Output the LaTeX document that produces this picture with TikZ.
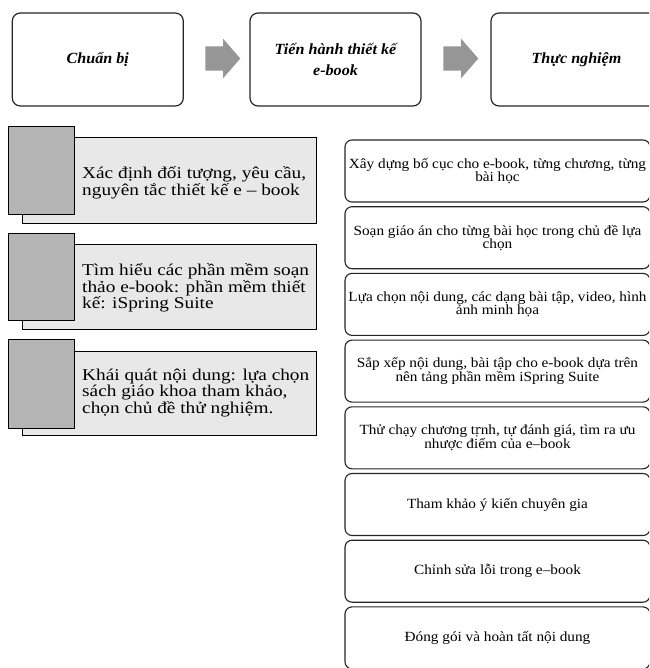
\documentclass[tikz,border=0pt]{standalone}
\usepackage{fontspec}
\setmainfont{Liberation Serif}
\newfontfamily\leftfont[FakeStretch=1.17]{Liberation Serif}
\newfontfamily\rightfont[FakeStretch=1.09]{Liberation Serif}
\newfontfamily\topfont[FakeStretch=1.04]{Liberation Serif}
\newfontfamily\rdotfont[FakeStretch=0.9]{DejaVu Serif}
\usetikzlibrary{shapes.arrows}
\definecolor{arrowgray}{RGB}{150,150,150}
\definecolor{tabgray}{RGB}{180,180,180}
\definecolor{panelgray}{RGB}{232,232,232}
\tikzset{
  topbox/.style={draw=black!85, line width=1.2pt, rounded corners=8pt, fill=white,
    minimum width=171pt, minimum height=93pt, inner sep=0pt, align=center,
    font=\topfont\fontsize{15.5}{21}\selectfont\bfseries\itshape},
  blockarrow/.style={single arrow, fill=arrowgray, draw=none, inner xsep=0pt, inner ysep=12pt,
    minimum height=35pt, single arrow head extend=7.5pt, single arrow tip angle=98},
  panel/.style={draw=black, line width=1pt, fill=panelgray, minimum width=294pt, inner sep=0pt},
  tab/.style={draw=black, line width=1pt, fill=tabgray, minimum width=66pt, minimum height=87pt, inner sep=0pt},
  paneltext/.style={anchor=west, align=left, inner sep=0pt,
    font=\leftfont\fontsize{16.5}{12.5}\selectfont},
  stepbox/.style={draw=black!85, line width=1.1pt, rounded corners=7pt, fill=white,
    minimum width=305pt, minimum height=62pt, inner sep=0pt, align=center,
    font=\rightfont\fontsize{14}{13}\selectfont}
}
\begin{document}
\begin{tikzpicture}[x=1pt,y=-1pt]
\clip (0,0) rectangle (649,668);
\fill[white] (0,0) rectangle (649,668);
% top row
\node[topbox] (b1) at (97.8,59.5) {Chuẩn bị};
\node[topbox] (b2) at (335.5,59.5) {Tiến hành thiết kế\\e-book};
\node[topbox] (b3) at (576.5,59.5) {Thực nghiệm};
\node[blockarrow] (a1) at (217.5,58.5) {};
\node[blockarrow] (a2) at (455.5,58.5) {};
% left panels
\node[panel, minimum height=85pt] (p1) at (169,180.5) {};
\node[tab] (g1) at (41,170.5) {};
\node[paneltext] (t1) at (82,183) {Xác định đối tượng, yêu cầu,\\nguyên tắc thiết kế e – book};
\node[panel, minimum height=85pt] (p2) at (169,286.5) {};
\node[tab] (g2) at (41,276.5) {};
\node[paneltext] (t2) at (82,288) {Tìm hiểu các phần mềm soạn\\thảo e-book: phần mềm thiết\\kế: iSpring Suite};
\node[panel, minimum height=84pt] (p3) at (169,393) {};
\node[tab, minimum height=89pt] (g3) at (41,383.5) {};
\node[paneltext] (t3) at (82,393) {Khái quát nội dung: lựa chọn\\sách giáo khoa tham khảo,\\chọn chủ đề thử nghiệm.};
% right column
\node[stepbox] (s1) at (497.5,171) {Xây dựng bố cục cho e-book, từng chương, từng\\bài học};
\node[stepbox] (s2) at (497.5,237.7) {Soạn giáo án cho từng bài học trong chủ đề lựa\\chọn};
\node[stepbox] (s3) at (497.5,304.4) {Lựa chọn nội dung, các dạng bài tập, video, hình\\ảnh minh họa};
\node[stepbox] (s4) at (497.5,371.1) {Sắp xếp nội dung, bài tập cho e-book dựa trên\\nên tảng phần mềm iSpring Suite};
\node[stepbox] (s5) at (497.5,437.8) {Thử chạy chương t{\rdotfont\fontsize{13}{13}\selectfont ṛ}nh, tự đánh giá, tìm ra ưu\\nhược điểm của e–book};
\node[stepbox] (s6) at (497.5,504.5) {Tham khảo ý kiến chuyên gia};
\node[stepbox] (s7) at (497.5,571.2) {Chỉnh sửa lỗi trong e–book};
\node[stepbox] (s8) at (497.5,637.9) {Đóng gói và hoàn tất nội dung};
\end{tikzpicture}
\end{document}
